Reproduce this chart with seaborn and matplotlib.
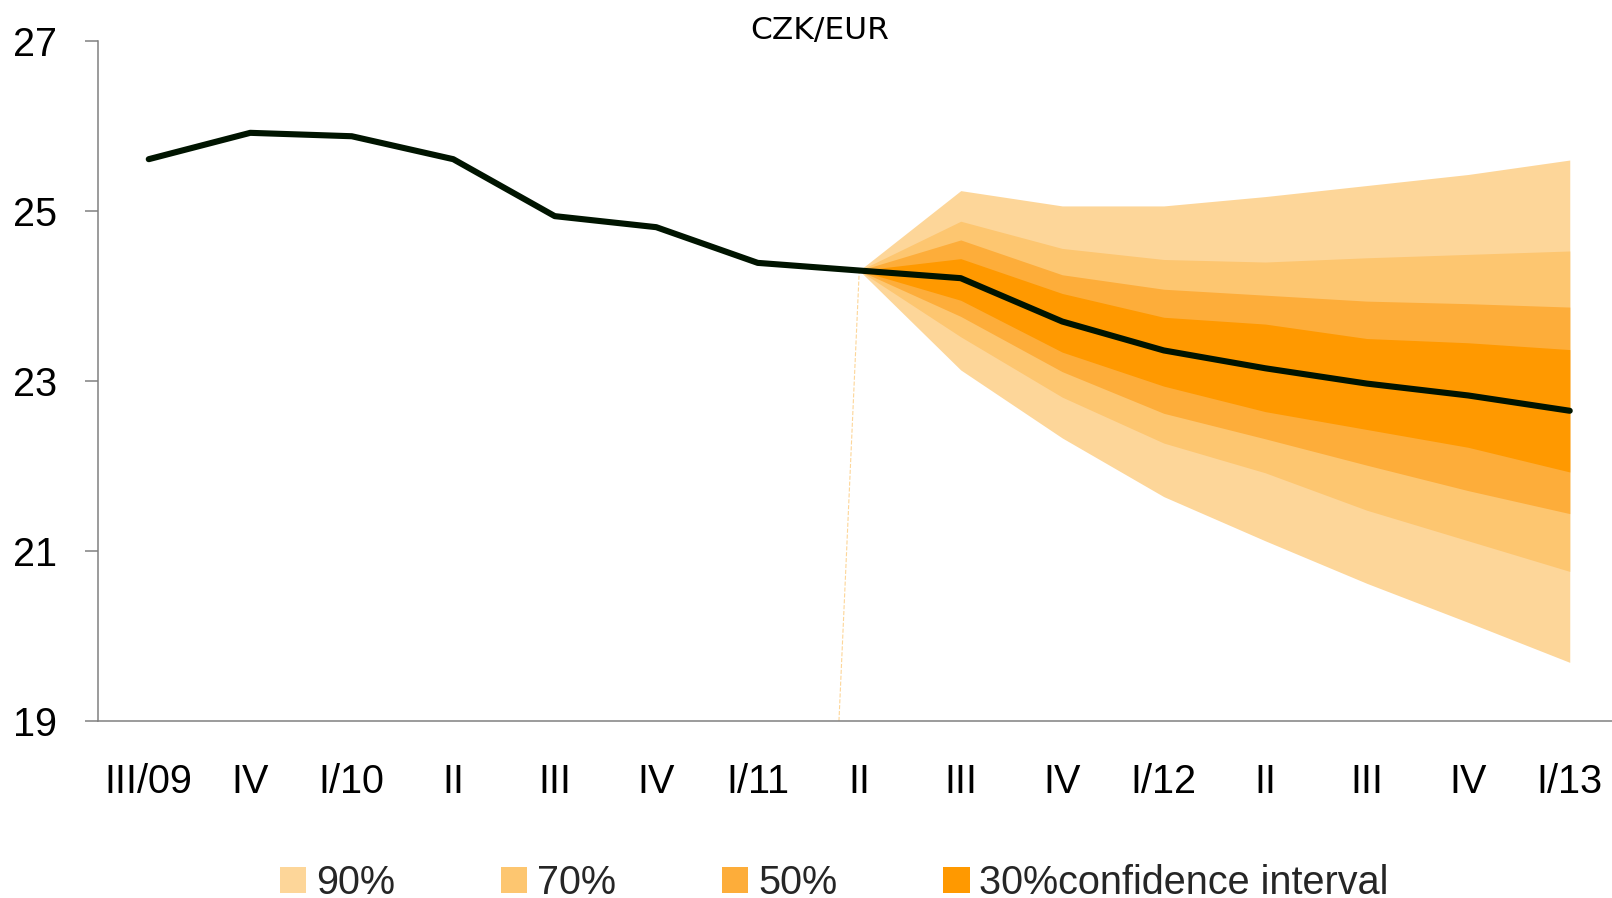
import numpy as np
import pandas as pd
import matplotlib
matplotlib.use("Agg")
import matplotlib.pyplot as plt
from matplotlib.patches import Patch
import seaborn as sns

# Quarterly CZK/EUR exchange rate with forecast fan
periods = ["III/09", "IV", "I/10", "II", "III", "IV", "I/11", "II",
           "III", "IV", "I/12", "II", "III", "IV", "I/13"]
rate = [25.61, 25.92, 25.88, 25.61, 24.94, 24.81, 24.39, 24.30,
        24.21, 23.70, 23.36, 23.15, 22.97, 22.83, 22.65]

# Confidence bands from II/11 to I/13
fan_periods = periods[7:]
hi90 = [24.30, 25.24, 25.06, 25.06, 25.17, 25.30, 25.43, 25.60]
hi70 = [24.30, 24.88, 24.56, 24.43, 24.40, 24.45, 24.49, 24.53]
hi50 = [24.30, 24.66, 24.25, 24.08, 24.01, 23.94, 23.91, 23.87]
hi30 = [24.30, 24.44, 24.03, 23.75, 23.67, 23.50, 23.45, 23.37]
lo30 = [24.30, 23.95, 23.34, 22.94, 22.64, 22.43, 22.22, 21.93]
lo50 = [24.30, 23.76, 23.11, 22.62, 22.32, 22.01, 21.71, 21.44]
lo70 = [24.30, 23.52, 22.81, 22.27, 21.92, 21.48, 21.12, 20.76]
lo90 = [24.30, 23.13, 22.33, 21.64, 21.12, 20.62, 20.16, 19.69]

band_labels = ["90%", "70%", "50%", "30%confidence interval"]
band_colors = ["#FDD699", "#FDC670", "#FDAD3A", "#FF9900"]
y_ticks = [19, 21, 23, 25, 27]

sns.set_theme(style="white")
plt.rcParams["font.family"] = ["Liberation Sans", "DejaVu Sans"]

df = pd.DataFrame({"x": np.arange(len(periods)), "rate": rate})
fan_x = np.arange(len(periods))[7:]

fig = plt.figure(figsize=(16.12, 8.98), dpi=100)
ax = fig.add_axes([98 / 1612, 0.1971, 1522.5 / 1612, 0.7572])

bands = [(lo90, hi90), (lo70, hi70), (lo50, hi50), (lo30, hi30)]
for (lo, hi), col in zip(bands, band_colors):
    ax.fill_between(fan_x, lo, hi, color=col, linewidth=0, zorder=1)

# faint edge of the stacked area, as in the original
ax.plot([fan_x[0] - 0.2, fan_x[0]], [y_ticks[0], lo90[0]],
        color=band_colors[0], lw=0.8, ls="--", zorder=1)

sns.lineplot(data=df, x="x", y="rate", ax=ax, color="#001400",
             linewidth=4.4, solid_capstyle="round", zorder=3)

ax.set_xlim(-0.5, len(periods) - 0.5)
ax.set_ylim(19, 27)
ax.set_yticks(y_ticks)
ax.set_xticks(np.arange(len(periods)))
ax.set_xticklabels(periods)
ax.set_xlabel("")
ax.set_ylabel("")

for side in ["top", "right"]:
    ax.spines[side].set_visible(False)
for side in ["left", "bottom"]:
    ax.spines[side].set_color("#808080")
    ax.spines[side].set_linewidth(1.1)

ax.tick_params(axis="y", which="major", left=True, length=9.4, width=1.1,
               color="#808080", pad=20, labelsize=28.5, labelcolor="black")
ax.tick_params(axis="x", which="major", bottom=False, length=0, pad=30,
               labelsize=28.5, labelcolor="black")

fig.text(820 / 1612, (898 - 39) / 898, "CZK/EUR", ha="center", va="baseline",
         fontsize=22.5, family=["DejaVu Sans"], color="black")

handles = [Patch(facecolor=c, edgecolor="none") for c in band_colors]
fig.legend(handles, band_labels, loc="center left",
           bbox_to_anchor=(280 / 1612, 0.0167), ncol=4, frameon=False,
           fontsize=28.5, handlelength=0.66, handleheight=0.66,
           handletextpad=0.25, columnspacing=2.68, borderpad=0,
           borderaxespad=0)

fig.savefig("out.png", dpi=100)
